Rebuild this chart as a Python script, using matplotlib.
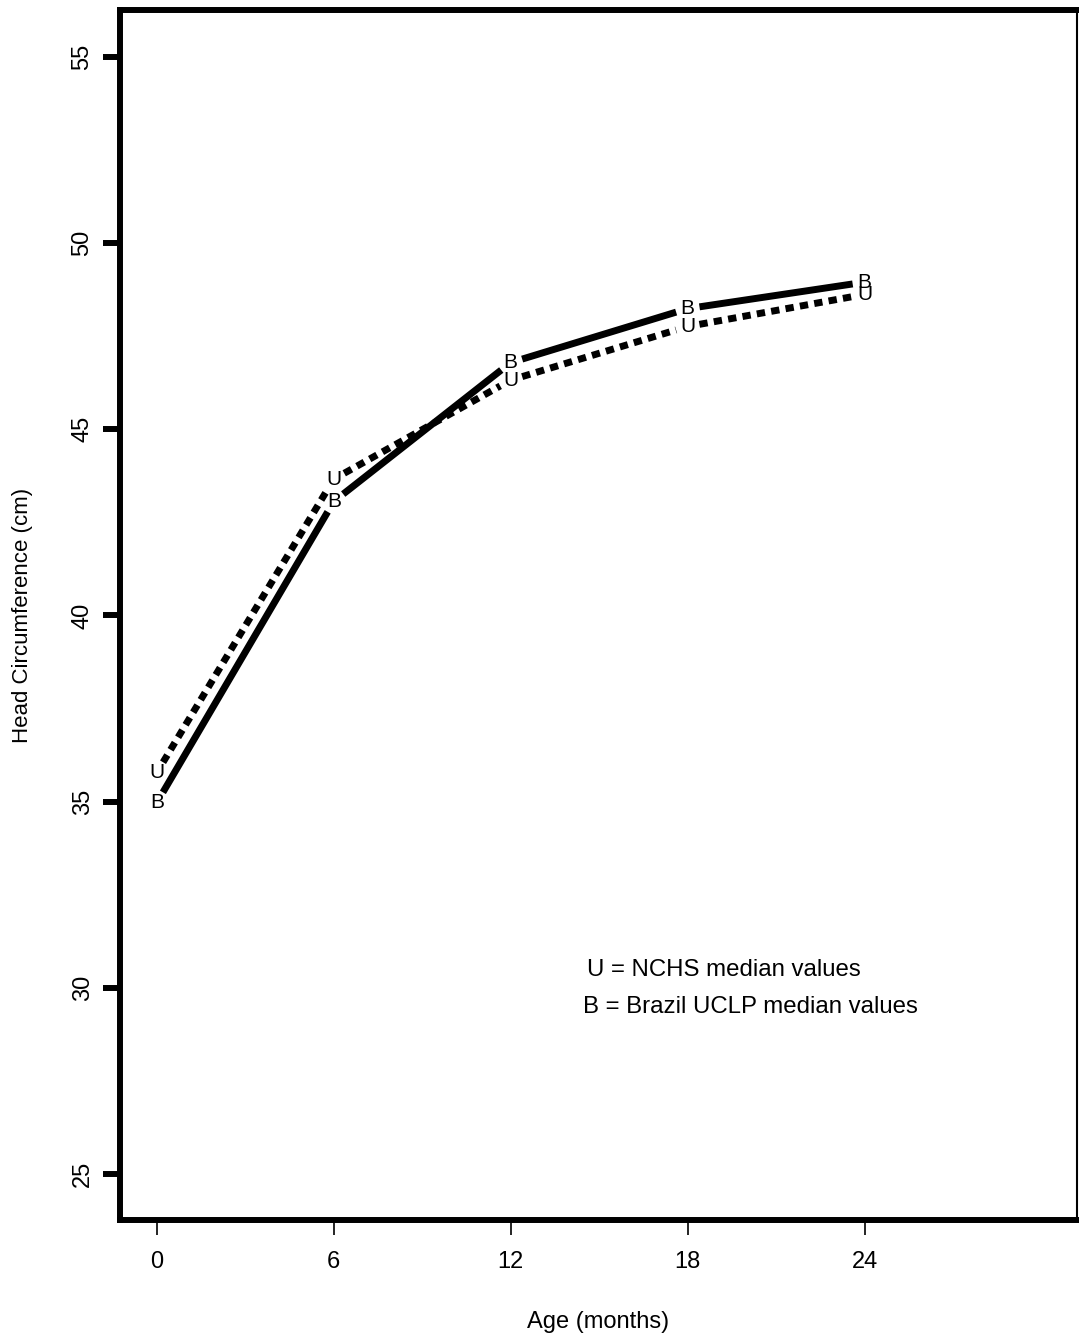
import matplotlib
matplotlib.use("Agg")
import matplotlib.pyplot as plt
import numpy as np

# head circumference medians (cm) by age (months)
ages = [0, 6, 12, 18, 24]
nchs = [35.78, 43.66, 46.32, 47.76, 48.62]    # U
brazil = [34.97, 43.06, 46.79, 48.24, 48.95]  # B

plt.rcParams['font.family'] = ['Liberation Sans', 'DejaVu Sans']

fig = plt.figure(figsize=(10.79, 13.37), dpi=100)
ax = fig.add_axes([0.1112, 0.0875, 0.8868, 0.905])
ax.set_xlim(-1.25, 31.2)
ax.set_ylim(23.76, 56.26)
fig.canvas.draw()


def gapped(x, y, gap=12):
    # R type="b": lines between points, leaving a gap around each point
    pts = ax.transData.transform(np.column_stack([x, y]))
    inv = ax.transData.inverted()
    segs = []
    for p, q in zip(pts[:-1], pts[1:]):
        d = q - p
        u = d / np.hypot(*d)
        a, b = inv.transform(np.array([p + u * gap, q - u * gap]))
        segs.append(([a[0], b[0]], [a[1], b[1]]))
    return segs


for sx, sy in gapped(ages, brazil):
    ax.plot(sx, sy, color='black', lw=5, solid_capstyle='butt')
for sx, sy in gapped(ages, nchs):
    ax.plot(sx, sy, color='black', lw=5, linestyle=(0, (1.2, 0.9)),
            dash_capstyle='butt')

for xv, yv in zip(ages, brazil):
    ax.text(xv, yv, 'B', ha='center', va='center', fontsize=15)
for xv, yv in zip(ages, nchs):
    ax.text(xv, yv, 'U', ha='center', va='center', fontsize=15)

ax.text(14.58, 30.48, 'U = NCHS median values', fontsize=17.3, va='center')
ax.text(14.44, 29.49, 'B = Brazil UCLP median values', fontsize=17.3, va='center')

ax.set_xticks(ages)
ax.set_yticks([25, 30, 35, 40, 45, 50, 55])
ax.set_yticklabels(['25', '30', '35', '40', '45', '50', '55'], rotation=90, va='center')
ax.tick_params(axis='y', length=12, width=4.3, labelsize=17, pad=7)
ax.tick_params(axis='x', length=11, width=1.2, labelsize=17, pad=11)

for side in ['left', 'top', 'bottom']:
    ax.spines[side].set_linewidth(4.3)
ax.spines['right'].set_linewidth(1.5)

ax.set_xlabel('Age (months)', fontsize=17, labelpad=28)
ax.set_ylabel('Head Circumference (cm)', fontsize=16, labelpad=28)

fig.savefig('out.png', dpi=100)
